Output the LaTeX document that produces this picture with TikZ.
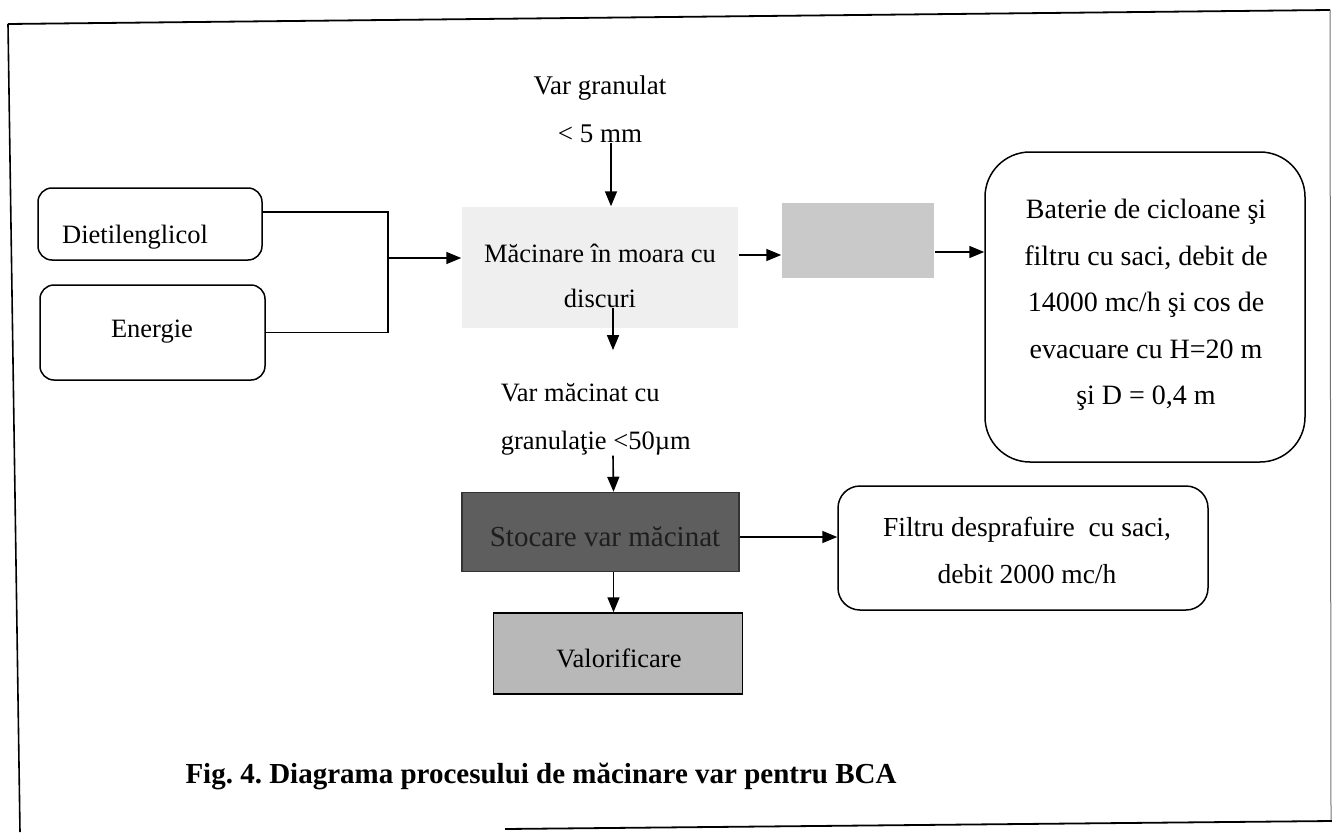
\documentclass[tikz,border=0pt]{standalone}
\usepackage{fontspec}
\setmainfont{Liberation Serif}
\usetikzlibrary{arrows.meta}
\definecolor{millfill}{HTML}{EFEFEF}
\definecolor{blankfill}{HTML}{C9C9C9}
\definecolor{storefill}{HTML}{5E5E5E}
\definecolor{storetext}{HTML}{1E1E1E}
\definecolor{valfill}{HTML}{B8B8B8}
\begin{document}
\frenchspacing
\begin{tikzpicture}[x=1pt,y=-1pt,
  line width=1.5pt,
  arr/.style={-{Triangle[length=15pt,width=12pt]}, line width=1.6pt},
  lbl/.style={font=\fontsize{26}{47}\selectfont, align=center, inner sep=0pt},
  rbox/.style={draw, line width=1.5pt, inner sep=0pt},
  flat/.style={inner sep=0pt}
]
\useasboundingbox (0,0) rectangle (1332,832);

% page frame (scanned, slightly skewed)
\draw[line width=1.8pt] (8,24) -- (1330,10);
\draw[line width=1.6pt] (8,24) -- (20,832);
\draw[line width=1.0pt, black!55] (1330,10) -- (1331,822);
\draw[line width=1.8pt] (505,829) -- (1332,821);

% raw material
\node[lbl, font=\fontsize{27}{48}\selectfont] (vg) at (600,109) {Var granulat\\< 5 mm};

% mill
\node[flat, fill=millfill, minimum width=276pt, minimum height=121pt] (mill) at (600,267.5) {};
\node[lbl, font=\fontsize{26.5}{45}\selectfont] (millt) at (600,275.5) {Măcinare în moara cu\\discuri};

% inputs
\node[rbox, rounded corners=14pt, minimum width=224pt, minimum height=72pt] (dg) at (150,224) {};
\node[lbl, font=\fontsize{26.5}{47}\selectfont] (dgt) at (135,237) {Dietilenglicol};
\node[rbox, rounded corners=14pt, minimum width=225pt, minimum height=95pt] (en) at (152.5,332.5) {};
\node[lbl, font=\fontsize{26.5}{47}\selectfont] (ent) at (152,332) {Energie};
\coordinate (jn) at (388,258);

% dust line
\node[flat, fill=blankfill, minimum width=152pt, minimum height=75pt] (gb) at (858,240.5) {};
\node[rbox, rounded corners=45pt, minimum width=320pt, minimum height=310pt] (bat) at (1145,307) {};
\node[lbl, font=\fontsize{28}{46.5}\selectfont] (batt) at (1146,305)
  {Baterie de cicloane şi\\filtru cu saci, debit de\\14000 mc/h şi cos de\\evacuare cu H=20 m\\şi D = 0,4 m};

% ground product
\node[lbl, align=left, anchor=west, font=\fontsize{26.5}{48}\selectfont] (vm) at (500,419) {Var măcinat cu\\granulaţie <50µm};

% storage and use
\node[rbox, draw=black!80, fill=storefill, minimum width=277pt, minimum height=79pt] (sto) at (600.5,532) {};
\node[lbl, text=storetext, font=\fontsize{29}{36}\selectfont] (stot) at (605,537) {Stocare var măcinat};
\node[rbox, fill=valfill, minimum width=249pt, minimum height=81pt] (val) at (618,653.5) {};
\node[lbl, font=\fontsize{26.5}{36}\selectfont] (valt) at (619,658) {Valorificare};
\node[rbox, rounded corners=22pt, minimum width=370pt, minimum height=124pt] (fil) at (1023,548) {};
\node[lbl, font=\fontsize{27.5}{47}\selectfont] (filt) at (1027,550) {Filtru desprafuire\ \ cu saci,\\debit 2000 mc/h};

% caption
\node[inner sep=0pt, font=\fontsize{29}{36}\selectfont\bfseries] (cap) at (541,776) {Fig. 4. Diagrama procesului de măcinare var pentru BCA};

% connectors
\draw[arr] ([xshift=11pt]vg.south) -- ([xshift=11pt]vg.south |- mill.north);
\draw ([yshift=12pt]dg.east) -| (jn) |- (en.east);
\draw[arr] (jn) -- (mill.west |- jn);
\coordinate (ya) at (0,255);
\draw[arr] (mill.east |- ya) -- (gb.west |- ya);
\coordinate (yb) at (0,252);
\draw[arr] (gb.east |- yb) -- (bat.west |- yb);
\draw[arr] ([xshift=13pt]millt.south) -- ++(0,42);
\draw[arr] ([xshift=13pt]mill.south |- vm.south) -- ([xshift=13pt]sto.north);
\coordinate (yc) at (0,537);
\draw[arr] (sto.east |- yc) -- (fil.west |- yc);
\draw[arr] ([xshift=13pt]sto.south) -- ([xshift=13pt]sto.south |- val.north);
\end{tikzpicture}
\end{document}
